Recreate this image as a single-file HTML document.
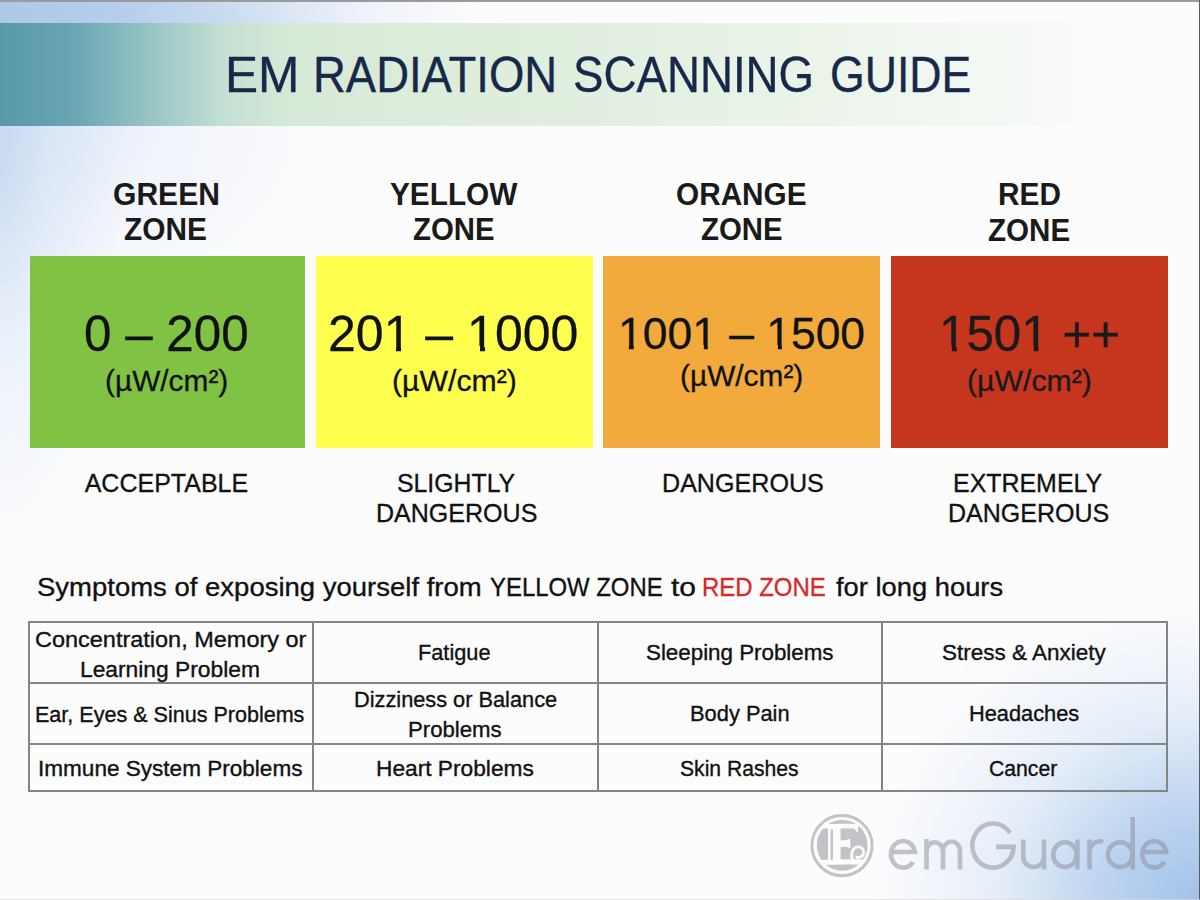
<!DOCTYPE html>
<html>
<head>
<meta charset="utf-8">
<style>
html,body{margin:0;padding:0;}
body{width:1200px;height:900px;overflow:hidden;position:relative;background:#fcfcfd;font-family:"Liberation Sans", sans-serif;}
.bg{position:absolute;left:0;top:0;width:1200px;height:900px;}
.t{position:absolute;white-space:pre;transform-origin:0 0;font-family:"Liberation Sans", sans-serif;}
.box{position:absolute;top:256px;height:192px;}
.one{position:relative;}
.one::before,.one::after{content:"";position:absolute;bottom:0.19em;height:0.13em;background:var(--bg);}
.one::before{left:0.03em;width:0.224em;}
.one::after{left:0.352em;width:0.2em;}
.hl{position:absolute;background:#858585;}
</style>
</head>
<body>
<!-- background gradients -->
<div class="bg" style="background:
  radial-gradient(ellipse 330px 300px at 1200px 900px, rgba(162,194,234,1) 0%, rgba(178,205,238,0.85) 30%, rgba(208,224,244,0.5) 62%, rgba(252,252,253,0) 100%),
  radial-gradient(ellipse 120px 400px at 0px 150px, rgba(196,214,240,0.8) 0%, rgba(212,226,245,0.5) 40%, rgba(252,252,253,0) 100%),
  radial-gradient(ellipse 330px 210px at 0px 125px, rgba(210,224,244,0.85) 0%, rgba(226,234,248,0.45) 50%, rgba(252,252,253,0) 100%);"></div>
<!-- top strip -->
<div style="position:absolute;left:0;top:0;width:1200px;height:22.5px;background:linear-gradient(to right,#aec8e8 0%,#b6ceec 10%,#c8daf0 18%,#dce6f4 24%,#eef2fa 30%,#fcfcfd 40%);"></div>
<!-- header band -->
<div style="position:absolute;left:0;top:22.5px;width:1200px;height:103.5px;background:linear-gradient(to right,#5898a8 0%,#6aa6b4 6.25%,#98c4c4 12.5%,#c4e0d4 18.75%,#d6e9d6 24%,#dcecda 35%,#e2efe0 50%,#eaf3e8 65%,#f1f7f0 78%,#f7faf7 87%,#fcfcfd 92%);"></div>
<!-- boxes -->
<div class="box" style="left:29.5px;width:275px;background:#80c244;"></div>
<div class="box" style="left:315.5px;width:277.5px;background:#ffff50;"></div>
<div class="box" style="left:603px;width:277px;background:#f2aa3c;"></div>
<div class="box" style="left:891px;width:277px;background:#c6361f;"></div>
<!-- table lines -->
<div class="hl" style="left:28px;top:621px;width:1139.5px;height:2px;"></div>
<div class="hl" style="left:28px;top:682px;width:1139.5px;height:2px;"></div>
<div class="hl" style="left:28px;top:743px;width:1139.5px;height:2px;"></div>
<div class="hl" style="left:28px;top:790px;width:1139.5px;height:2px;"></div>
<div class="hl" style="left:28px;top:621px;width:2px;height:171px;"></div>
<div class="hl" style="left:312px;top:621px;width:2px;height:171px;"></div>
<div class="hl" style="left:597px;top:621px;width:2px;height:171px;"></div>
<div class="hl" style="left:881px;top:621px;width:2px;height:171px;"></div>
<div class="hl" style="left:1165.5px;top:621px;width:2px;height:171px;"></div>
<div class="t" style="left:224.97px;top:50.05px;font-size:50.5px;line-height:50.5px;font-weight:400;color:#17294a;transform:scaleX(0.9825);-webkit-text-stroke:0.35px #17294a">EM</div>
<div class="t" style="left:313.00px;top:50.05px;font-size:50.5px;line-height:50.5px;font-weight:400;color:#17294a;transform:scaleX(0.9001);-webkit-text-stroke:0.35px #17294a">RADIATION</div>
<div class="t" style="left:572.89px;top:50.05px;font-size:50.5px;line-height:50.5px;font-weight:400;color:#17294a;transform:scaleX(0.9044);-webkit-text-stroke:0.35px #17294a">SCANNING</div>
<div class="t" style="left:830.33px;top:50.05px;font-size:50.5px;line-height:50.5px;font-weight:400;color:#17294a;transform:scaleX(0.8838);-webkit-text-stroke:0.35px #17294a">GUIDE</div>
<div class="t" style="left:113.06px;top:178.11px;font-size:32px;line-height:32px;font-weight:700;color:#1a1a1a;transform:scaleX(0.9396)">GREEN</div>
<div class="t" style="left:124.40px;top:213.11px;font-size:32px;line-height:32px;font-weight:700;color:#1a1a1a;transform:scaleX(0.9328)">ZONE</div>
<div class="t" style="left:390.00px;top:178.11px;font-size:32px;line-height:32px;font-weight:700;color:#1a1a1a;transform:scaleX(0.9305)">YELLOW</div>
<div class="t" style="left:413.10px;top:213.11px;font-size:32px;line-height:32px;font-weight:700;color:#1a1a1a;transform:scaleX(0.9182)">ZONE</div>
<div class="t" style="left:675.97px;top:178.11px;font-size:32px;line-height:32px;font-weight:700;color:#1a1a1a;transform:scaleX(0.9298)">ORANGE</div>
<div class="t" style="left:700.60px;top:213.11px;font-size:32px;line-height:32px;font-weight:700;color:#1a1a1a;transform:scaleX(0.9182)">ZONE</div>
<div class="t" style="left:997.54px;top:178.11px;font-size:32px;line-height:32px;font-weight:700;color:#1a1a1a;transform:scaleX(0.9309)">RED</div>
<div class="t" style="left:987.50px;top:214.31px;font-size:32px;line-height:32px;font-weight:700;color:#1a1a1a;transform:scaleX(0.9249)">ZONE</div>
<div class="t" style="left:83.71px;top:308.68px;font-size:50px;line-height:50px;font-weight:400;color:#111;transform:scaleX(0.9877);-webkit-text-stroke:0.3px #111">0 – 200</div>
<div class="t" style="left:328.00px;top:309.43px;font-size:50px;line-height:50px;font-weight:400;color:#111;transform:scaleX(1.0003);-webkit-text-stroke:0.3px #111">20<span class='one' style='color:inherit;--bg:#ffff50'>1</span> – <span class='one' style='color:inherit;--bg:#ffff50'>1</span>000</div>
<div class="t" style="left:617.79px;top:311.41px;font-size:45px;line-height:45px;font-weight:400;color:#111;transform:scaleX(0.9871);-webkit-text-stroke:0.3px #111"><span class='one' style='color:inherit;--bg:#f2aa3c'>1</span>00<span class='one' style='color:inherit;--bg:#f2aa3c'>1</span> – <span class='one' style='color:inherit;--bg:#f2aa3c'>1</span>500</div>
<div class="t" style="left:939.04px;top:309.43px;font-size:50px;line-height:50px;font-weight:400;color:#1a1a1a;transform:scaleX(0.9859);-webkit-text-stroke:0.3px #1a1a1a"><span class='one' style='color:inherit;--bg:#c6361f'>1</span>50<span class='one' style='color:inherit;--bg:#c6361f'>1</span> ++</div>
<div class="t" style="left:104.60px;top:365.61px;font-size:30px;line-height:30px;font-weight:400;color:#111;transform:scaleX(0.9950);-webkit-text-stroke:0.3px #111">(µW/cm²)</div>
<div class="t" style="left:391.99px;top:365.61px;font-size:30px;line-height:30px;font-weight:400;color:#111;transform:scaleX(1.0073);-webkit-text-stroke:0.3px #111">(µW/cm²)</div>
<div class="t" style="left:679.60px;top:360.61px;font-size:30px;line-height:30px;font-weight:400;color:#111;transform:scaleX(0.9950);-webkit-text-stroke:0.3px #111">(µW/cm²)</div>
<div class="t" style="left:966.99px;top:366.11px;font-size:30px;line-height:30px;font-weight:400;color:#1a1a1a;transform:scaleX(1.0073);-webkit-text-stroke:0.3px #1a1a1a">(µW/cm²)</div>
<div class="t" style="left:84.70px;top:470.54px;font-size:25px;line-height:25px;font-weight:400;color:#111;transform:scaleX(1.0000);-webkit-text-stroke:0.3px #111">ACCEPTABLE</div>
<div class="t" style="left:397.31px;top:471.34px;font-size:25px;line-height:25px;font-weight:400;color:#111;transform:scaleX(0.9929);-webkit-text-stroke:0.3px #111">SLIGHTLY</div>
<div class="t" style="left:376.00px;top:500.54px;font-size:25px;line-height:25px;font-weight:400;color:#111;transform:scaleX(1.0015);-webkit-text-stroke:0.3px #111">DANGEROUS</div>
<div class="t" style="left:662.19px;top:470.54px;font-size:25px;line-height:25px;font-weight:400;color:#111;transform:scaleX(1.0041);-webkit-text-stroke:0.3px #111">DANGEROUS</div>
<div class="t" style="left:953.01px;top:471.34px;font-size:25px;line-height:25px;font-weight:400;color:#111;transform:scaleX(0.9973);-webkit-text-stroke:0.3px #111">EXTREMELY</div>
<div class="t" style="left:947.70px;top:500.54px;font-size:25px;line-height:25px;font-weight:400;color:#111;transform:scaleX(1.0009);-webkit-text-stroke:0.3px #111">DANGEROUS</div>
<div class="t" style="left:36.96px;top:573.95px;font-size:26.4px;line-height:26.4px;font-weight:400;color:#111;transform:scaleX(1.0418);-webkit-text-stroke:0.35px #111">Symptoms of exposing yourself from</div>
<div class="t" style="left:489.90px;top:573.95px;font-size:26.4px;line-height:26.4px;font-weight:400;color:#111;transform:scaleX(0.9056);-webkit-text-stroke:0.35px #111">YELLOW ZONE</div>
<div class="t" style="left:670.70px;top:573.95px;font-size:26.4px;line-height:26.4px;font-weight:400;color:#111;transform:scaleX(1.1391);-webkit-text-stroke:0.35px #111">to</div>
<div class="t" style="left:702.48px;top:573.95px;font-size:26.4px;line-height:26.4px;font-weight:400;color:#d42a2a;transform:scaleX(0.9076);-webkit-text-stroke:0.35px #d42a2a">RED ZONE</div>
<div class="t" style="left:835.80px;top:573.95px;font-size:26.4px;line-height:26.4px;font-weight:400;color:#111;transform:scaleX(1.0355);-webkit-text-stroke:0.35px #111">for long hours</div>
<div class="t" style="left:34.63px;top:628.68px;font-size:22px;line-height:22px;font-weight:400;color:#111;transform:scaleX(1.0672);-webkit-text-stroke:0.35px #111">Concentration, Memory or</div>
<div class="t" style="left:80.21px;top:658.68px;font-size:22px;line-height:22px;font-weight:400;color:#111;transform:scaleX(1.0360);-webkit-text-stroke:0.35px #111">Learning Problem</div>
<div class="t" style="left:418.41px;top:642.38px;font-size:22px;line-height:22px;font-weight:400;color:#111;transform:scaleX(0.9883);-webkit-text-stroke:0.35px #111">Fatigue</div>
<div class="t" style="left:645.68px;top:642.38px;font-size:22px;line-height:22px;font-weight:400;color:#111;transform:scaleX(1.0155);-webkit-text-stroke:0.35px #111">Sleeping Problems</div>
<div class="t" style="left:941.58px;top:642.38px;font-size:22px;line-height:22px;font-weight:400;color:#111;transform:scaleX(1.0219);-webkit-text-stroke:0.35px #111">Stress &amp; Anxiety</div>
<div class="t" style="left:35.32px;top:703.88px;font-size:22px;line-height:22px;font-weight:400;color:#111;transform:scaleX(0.9791);-webkit-text-stroke:0.35px #111">Ear, Eyes &amp; Sinus Problems</div>
<div class="t" style="left:353.61px;top:689.13px;font-size:22px;line-height:22px;font-weight:400;color:#111;transform:scaleX(0.9888);-webkit-text-stroke:0.35px #111">Dizziness or Balance</div>
<div class="t" style="left:408.19px;top:718.78px;font-size:22px;line-height:22px;font-weight:400;color:#111;transform:scaleX(1.0074);-webkit-text-stroke:0.35px #111">Problems</div>
<div class="t" style="left:689.61px;top:703.38px;font-size:22px;line-height:22px;font-weight:400;color:#111;transform:scaleX(0.9933);-webkit-text-stroke:0.35px #111">Body Pain</div>
<div class="t" style="left:968.91px;top:703.38px;font-size:22px;line-height:22px;font-weight:400;color:#111;transform:scaleX(0.9900);-webkit-text-stroke:0.35px #111">Headaches</div>
<div class="t" style="left:37.85px;top:758.38px;font-size:22px;line-height:22px;font-weight:400;color:#111;transform:scaleX(1.0251);-webkit-text-stroke:0.35px #111">Immune System Problems</div>
<div class="t" style="left:376.07px;top:758.38px;font-size:22px;line-height:22px;font-weight:400;color:#111;transform:scaleX(1.0327);-webkit-text-stroke:0.35px #111">Heart Problems</div>
<div class="t" style="left:680.14px;top:758.38px;font-size:22px;line-height:22px;font-weight:400;color:#111;transform:scaleX(0.9600);-webkit-text-stroke:0.35px #111">Skin Rashes</div>
<div class="t" style="left:989.04px;top:758.38px;font-size:22px;line-height:22px;font-weight:400;color:#111;transform:scaleX(0.9627);-webkit-text-stroke:0.35px #111">Cancer</div>
<!-- logo -->
<svg style="position:absolute;left:0;top:0" width="1200" height="900">
  <defs><clipPath id="cp"><circle cx="842" cy="845.6" r="27.8"/></clipPath></defs>
  <g opacity="0.5">
    <circle cx="842" cy="845.6" r="30.1" fill="none" stroke="#8a8a92" stroke-width="2.9"/>
    <circle cx="842.2" cy="845.3" r="25.4" fill="#8a8a92"/>
  </g>
  <g clip-path="url(#cp)" fill="#fcfcfd">
    <path d="M812 824.4 Q838 823.4 853 823.8 L858.2 824.6 L858 833.2 L854 828.6 Q838 828 812 828.8 Z"/>
    <rect x="828" y="826" width="12.6" height="36"/>
    <path d="M840 840.4 L846 840 L850.2 838.8 L850.4 848.6 L846 846.8 L840 847 Z"/>
    <path d="M812 860.4 Q842 858.4 872 859.6 L872 864.8 Q842 864.2 812 865.2 Z"/>
    <path d="M853.2 861 C850.6 857 851 847.2 858 846.8 C862.8 846.6 864 850.8 863.6 853 C863 857 858.6 858.6 855.8 856.6" fill="none" stroke="#fcfcfd" stroke-width="2.8"/>
    <path d="M851.6 853 Q851.6 860 858 861 L851 862 Z"/>
      </g>
  <g opacity="0.5" fill="#8a8a92">
    <rect x="830.6" y="829.2" width="2.3" height="30.8"/>
  </g>
  <g fill="none" stroke="#8c8c96" stroke-width="4.6" opacity="0.5" stroke-linecap="butt">
    <path d="M891 852 H915 A12.1 13.3 0 1 0 913 862"/>
    <path d="M926.5 869.5 V839 M926.5 852 A8 9 0 0 1 943 851 V869.5 M943 851 A8 9 0 0 1 960 851 V869.5"/>
    <path d="M1010 832.9 A20.7 22.1 0 1 0 1013.7 846.9 H996"/>
    <path d="M1023.3 839.5 V857 A10.35 10 0 0 0 1044 857 M1044 839.5 V869.5"/>
    <ellipse cx="1065" cy="854.7" rx="11.7" ry="12.4"/>
    <path d="M1077.4 839.5 V869.5"/>
    <path d="M1089.5 839.5 V869.5 M1089.5 851 A10 11 0 0 1 1103 842"/>
    <ellipse cx="1120.3" cy="854.7" rx="12.3" ry="12.4"/>
    <path d="M1132.7 817 V869.5"/>
    <path d="M1142.2 852 H1166.2 A12.1 13.3 0 1 0 1164.2 862"/>
  </g>
</svg>
<!-- frame -->
<div style="position:absolute;left:0;top:0;width:1200px;height:1.5px;background:#9a9a9a;"></div>
<div style="position:absolute;left:1198.5px;top:0;width:1.5px;height:900px;background:#5a5a5a;"></div>
<div style="position:absolute;left:0;top:898.5px;width:1200px;height:1.5px;background:#d8d8d8;opacity:0.6;"></div>
</body>
</html>
